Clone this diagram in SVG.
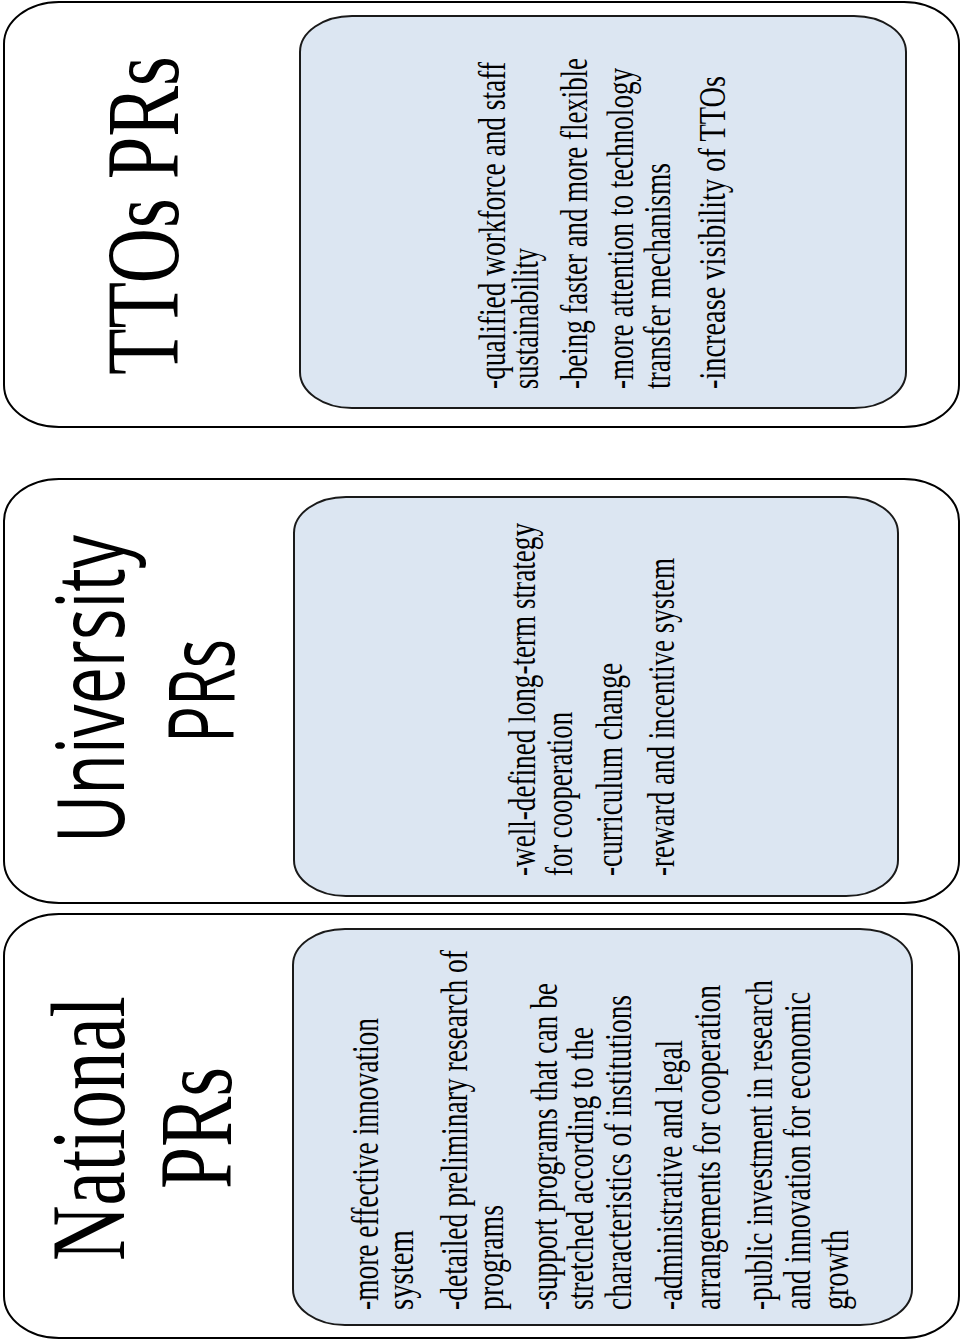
<svg xmlns="http://www.w3.org/2000/svg" width="963" height="1342" viewBox="0 0 963 1342">
<style>
.outer{fill:#ffffff;stroke:#000000;stroke-width:2}
.inner{fill:#dce6f2;stroke:#1a1a1a;stroke-width:2}
.serif{font-family:'Liberation Serif','Times New Roman',Tinos,'Nimbus Roman','Noto Serif','DejaVu Serif',FreeSerif,Times,serif;fill:#000}
.sans{font-family:'Open Sans','Liberation Sans',Arial,sans-serif;fill:#000}
</style>
<rect x="0" y="0" width="963" height="1342" fill="#ffffff"/>
<g id="connectors"></g>
<g id="tto">
<rect class="outer" x="4" y="2" width="955" height="425" rx="55" ry="42"/>
<rect class="inner" x="300" y="16" width="606" height="392" rx="52" ry="36"/>
<text class="serif" font-size="103" transform="translate(178,375) rotate(-90) scale(0.741,1)">TTOs PRs</text>
<g class="serif" font-size="37">
<text transform="translate(505,389) rotate(-90)" textLength="327" lengthAdjust="spacingAndGlyphs">-qualified workforce and staff</text>
<text transform="translate(538,389) rotate(-90)" textLength="141" lengthAdjust="spacingAndGlyphs">sustainability</text>
<text transform="translate(587,389) rotate(-90)" textLength="331" lengthAdjust="spacingAndGlyphs">-being faster and more flexible</text>
<text transform="translate(633,389) rotate(-90)" textLength="321" lengthAdjust="spacingAndGlyphs">-more attention to technology</text>
<text transform="translate(670,389) rotate(-90)" textLength="226" lengthAdjust="spacingAndGlyphs">transfer mechanisms</text>
<text transform="translate(725,389) rotate(-90)" textLength="313" lengthAdjust="spacingAndGlyphs">-increase visibility of TTOs</text>
</g>
</g>
<g id="university">
<rect class="outer" x="4" y="479" width="955" height="424" rx="55" ry="42"/>
<rect class="inner" x="294" y="497" width="604" height="399" rx="52" ry="36"/>
<text class="sans" font-size="94" transform="translate(124,843) rotate(-90)" textLength="308" lengthAdjust="spacingAndGlyphs">University</text>
<text class="sans" font-size="92" transform="translate(234,743) rotate(-90)" textLength="104" lengthAdjust="spacingAndGlyphs">PRs</text>
<g class="serif" font-size="37">
<text transform="translate(535,876) rotate(-90)" textLength="353" lengthAdjust="spacingAndGlyphs">-well-defined long-term strategy</text>
<text transform="translate(572,876) rotate(-90)" textLength="164" lengthAdjust="spacingAndGlyphs">for cooperation</text>
<text transform="translate(622,876) rotate(-90)" textLength="213" lengthAdjust="spacingAndGlyphs">-curriculum change</text>
<text transform="translate(674,876) rotate(-90)" textLength="318" lengthAdjust="spacingAndGlyphs">-reward and incentive system</text>
</g>
</g>
<g id="national">
<rect class="outer" x="4" y="914" width="955" height="424" rx="55" ry="42"/>
<rect class="inner" x="293" y="929" width="619" height="396" rx="52" ry="36"/>
<text class="serif" font-size="106" transform="translate(124,1261) rotate(-90)" textLength="265" lengthAdjust="spacingAndGlyphs">National</text>
<text class="serif" font-size="103" transform="translate(231,1189) rotate(-90)" textLength="122" lengthAdjust="spacingAndGlyphs">PRs</text>
<g class="serif" font-size="37">
<text transform="translate(378,1310) rotate(-90)" textLength="292" lengthAdjust="spacingAndGlyphs">-more effective innovation</text>
<text transform="translate(413,1310) rotate(-90)" textLength="80" lengthAdjust="spacingAndGlyphs">system</text>
<text transform="translate(467,1310) rotate(-90)" textLength="360" lengthAdjust="spacingAndGlyphs">-detailed preliminary research of</text>
<text transform="translate(503,1310) rotate(-90)" textLength="105" lengthAdjust="spacingAndGlyphs">programs</text>
<text transform="translate(557,1310) rotate(-90)" textLength="327" lengthAdjust="spacingAndGlyphs">-support programs that can be</text>
<text transform="translate(593,1310) rotate(-90)" textLength="283" lengthAdjust="spacingAndGlyphs">stretched according to the</text>
<text transform="translate(631,1310) rotate(-90)" textLength="315" lengthAdjust="spacingAndGlyphs">characteristics of institutions</text>
<text transform="translate(682,1310) rotate(-90)" textLength="270" lengthAdjust="spacingAndGlyphs">-administrative and legal</text>
<text transform="translate(720,1310) rotate(-90)" textLength="325" lengthAdjust="spacingAndGlyphs">arrangements for cooperation</text>
<text transform="translate(772,1310) rotate(-90)" textLength="330" lengthAdjust="spacingAndGlyphs">-public investment in research</text>
<text transform="translate(810,1310) rotate(-90)" textLength="318" lengthAdjust="spacingAndGlyphs">and innovation for economic</text>
<text transform="translate(848,1310) rotate(-90)" textLength="80" lengthAdjust="spacingAndGlyphs">growth</text>
</g>
</g>
</svg>
